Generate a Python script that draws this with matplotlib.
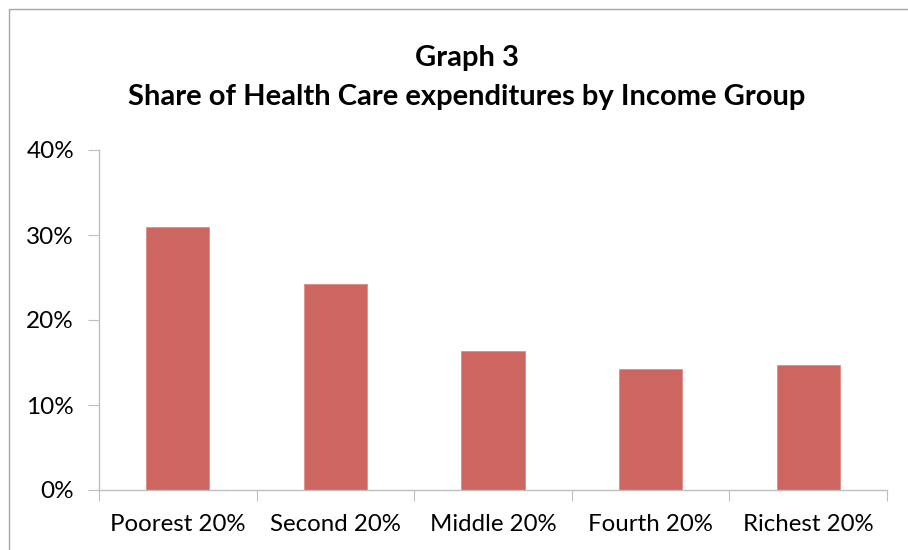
import matplotlib.pyplot as plt
from matplotlib.patches import Rectangle

# Data
groups = ["Poorest 20%", "Second 20%", "Middle 20%", "Fourth 20%", "Richest 20%"]
shares = [30.9, 24.2, 16.3, 14.2, 14.7]
yticks = [0, 10, 20, 30, 40]

plt.rcParams['font.family'] = ['Lato', 'DejaVu Sans']

fig = plt.figure(figsize=(9.08, 5.5), dpi=100)
ax = fig.add_axes([99 / 908, 60 / 550, 788 / 908, 340 / 550])

x = list(range(len(groups)))
ax.bar(x, shares, width=0.4, color="#CD6660", edgecolor="#E08C86", linewidth=0.6, zorder=2)

ax.set_xlim(-0.5, len(groups) - 0.5)
ax.set_ylim(0, 40)
ax.set_yticks(yticks)
ax.set_yticklabels([f"{v}%" for v in yticks], fontsize=17.5)
ax.set_xticks([i - 0.5 for i in range(len(groups) + 1)])
ax.set_xticklabels([])
ax.set_xticks(x, minor=True)
ax.set_xticklabels(groups, minor=True, fontsize=17.3)
ax.tick_params(axis='x', which='minor', length=0, pad=17)
ax.tick_params(axis='x', which='major', length=8, color="#BFBFBF", direction='out')
ax.tick_params(axis='y', length=8, color="#BFBFBF", direction='out', pad=10)

for side in ["top", "right"]:
    ax.spines[side].set_visible(False)
for side in ["left", "bottom"]:
    ax.spines[side].set_color("#BFBFBF")
    ax.spines[side].set_linewidth(1.0)

fig.text(467 / 908, 1 - 58 / 550, "Graph 3", ha='center', va='center',
         fontsize=21, fontweight='bold')
fig.text(467 / 908, 1 - 97 / 550, "Share of Health Care expenditures by Income Group",
         ha='center', va='center', fontsize=21, fontweight='bold')

# outer chart border
fig.patches.append(Rectangle((9 / 908, -0.1), 1.0, 1 - 9 / 550 + 0.1,
                             transform=fig.transFigure, fill=False,
                             edgecolor="#A6A6A6", linewidth=1.0))

fig.savefig("out.png", dpi=100)
